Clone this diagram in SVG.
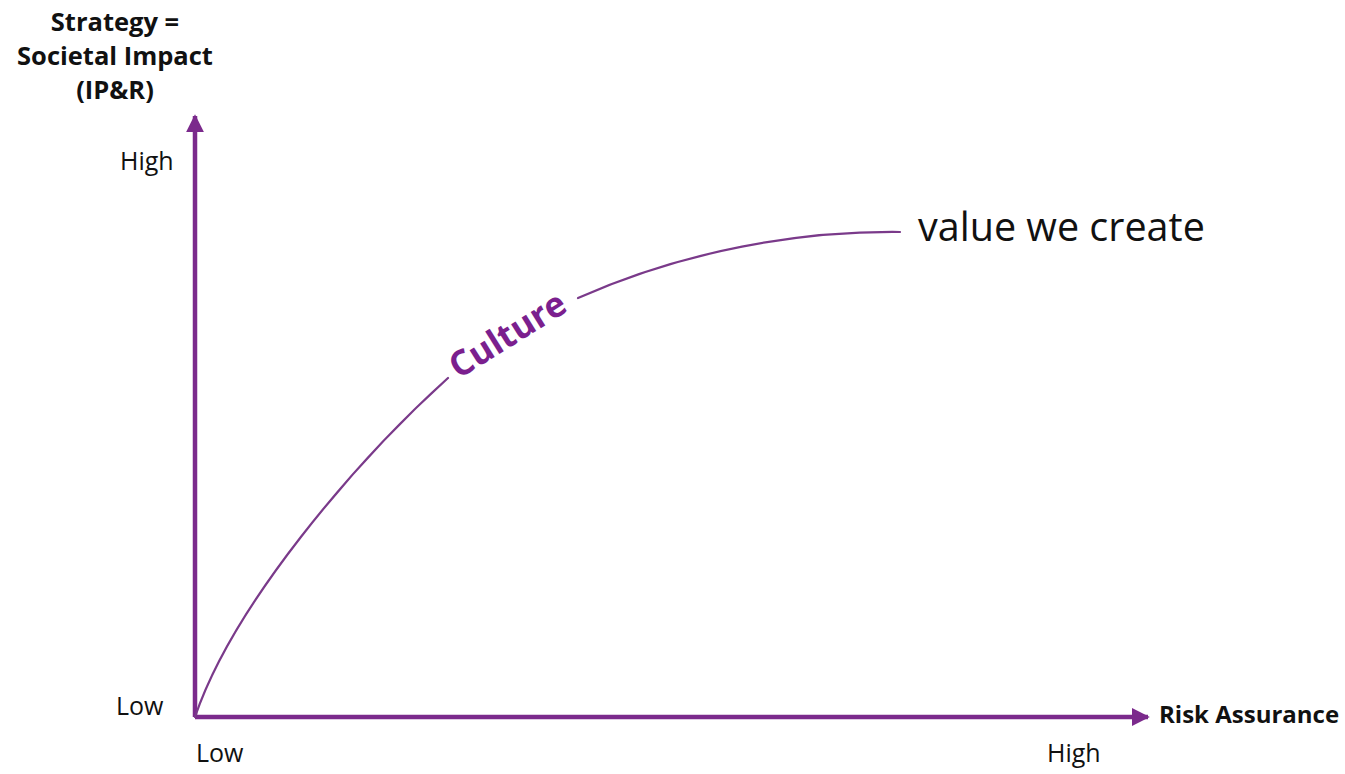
<svg xmlns="http://www.w3.org/2000/svg" width="1345" height="774" viewBox="0 0 1345 774">
  <style>
    .lbl { font-family: "Open Sans", "Liberation Sans", sans-serif; fill: #111; }
    .b { font-weight: bold; }
    .axis { stroke: #7B2A8C; stroke-width: 4.5; fill: none; }
    .curve { stroke: #7A3A8A; stroke-width: 2.2; fill: none; stroke-linecap: round; }
  </style>
  <defs>
    <marker id="head" viewBox="0 0 10 10" refX="9" refY="5" markerWidth="4" markerHeight="4" orient="auto" markerUnits="strokeWidth">
      <path d="M0,0 L10,5 L0,10 z" fill="#7B2A8C"/>
    </marker>
  </defs>

  <rect width="1345" height="774" fill="#fff"/>

  <!-- axes and the value curve -->
  <g id="connectors">
    <path class="axis" d="M195,717 L195,116" marker-end="url(#head)"/>
    <path class="axis" d="M195,717 L1148,717" marker-end="url(#head)"/>
    <!-- value curve, broken around the Culture label -->
    <path class="curve" d="M195,717 C233,605 355,462 448,378"/>
    <path class="curve" d="M578,298 C686,250 800,231 900,232"/>
  </g>

  <g id="y-axis-title">
    <text class="lbl b" x="115" y="31" font-size="25.5" text-anchor="middle">Strategy =</text>
    <text class="lbl b" x="115" y="65" font-size="25.5" text-anchor="middle">Societal Impact</text>
    <text class="lbl b" x="115" y="99" font-size="25.5" text-anchor="middle">(IP&amp;R)</text>
  </g>

  <g id="y-high"><text class="lbl" x="120" y="170" font-size="25">High</text></g>
  <g id="y-low"><text class="lbl" x="116" y="715" font-size="25">Low</text></g>
  <g id="x-low"><text class="lbl" x="196" y="762" font-size="25">Low</text></g>
  <g id="x-high"><text class="lbl" x="1047" y="762" font-size="25">High</text></g>
  <g id="x-axis-title"><text class="lbl b" x="1159" y="723" font-size="24">Risk Assurance</text></g>

  <g id="value-label"><text class="lbl" x="918" y="241" font-size="39.5">value we create</text></g>

  <g id="culture-label">
    <text x="0" y="0" transform="translate(509,337) rotate(-32)" text-anchor="middle" dominant-baseline="middle" font-family="Open Sans, Liberation Sans, sans-serif" font-weight="bold" font-size="35" fill="#7B1F8E">Culture</text>
  </g>
</svg>
